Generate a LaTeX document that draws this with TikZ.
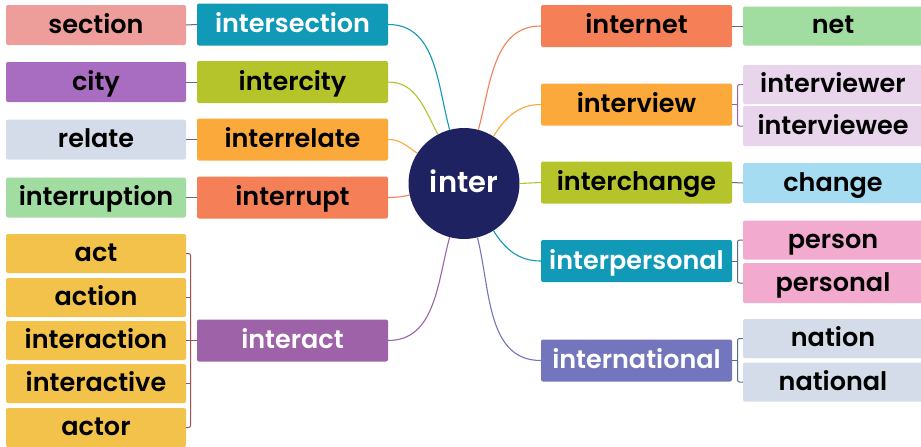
\documentclass[tikz,border=0pt]{standalone}
\usepackage{fontspec}
\setmainfont{Poppins}[BoldFont={Poppins SemiBold}]
\begin{document}
\begin{tikzpicture}[x=1pt,y=-1pt,
  box/.style={rectangle, rounded corners=2pt, inner sep=0pt, text height=18pt, text depth=2pt, font=\fontsize{25.5}{28}\selectfont\bfseries, text=black},
  wA/.style={box, minimum width=180, minimum height=40},
  wB/.style={box, minimum width=191, minimum height=42},
  wC/.style={box, minimum width=180, minimum height=39},
  link/.style={line width=1.1pt},
  tie/.style={line width=1pt, color=slate},
]
\definecolor{navy}{HTML}{1F2260}
\definecolor{cSection}{HTML}{EE9E9A}
\definecolor{cTeal}{HTML}{1199B8}
\definecolor{cCity}{HTML}{A86CC1}
\definecolor{cLime}{HTML}{B5C42A}
\definecolor{cGrey}{HTML}{D3DCE8}
\definecolor{cOrange}{HTML}{FBA93A}
\definecolor{cGreen}{HTML}{A1DCA1}
\definecolor{cRed}{HTML}{F58058}
\definecolor{cYellow}{HTML}{F3C24A}
\definecolor{cPurple}{HTML}{9D62A8}
\definecolor{cLav}{HTML}{E8D5EC}
\definecolor{cSky}{HTML}{A6DCF2}
\definecolor{cPink}{HTML}{F2AACF}
\definecolor{cIndigo}{HTML}{7476BD}
\definecolor{slate}{HTML}{5A6E8A}
\definecolor{brack}{HTML}{A0524A}
\useasboundingbox[fill=white] (0,0) rectangle (921,447);

% centre
\node[circle, fill=navy, minimum size=111, inner sep=0pt, text=white, text height=20pt, text depth=2pt, font=\fontsize{29}{30}\selectfont\bfseries] (c) at (464,183.5) {inter};

% left column 2
\node[wB, fill=cTeal, text=white] (intersection) at (292.5,24.5) {intersection};
\node[wB, fill=cLime] (intercity) at (292.5,82) {intercity};
\node[wB, fill=cOrange] (interrelate) at (292.5,139.5) {interrelate};
\node[wB, fill=cRed] (interrupt) at (292.5,197.5) {interrupt};
\node[wB, fill=cPurple, text=white] (interact) at (292.5,340.5) {interact};

% left column 1
\node[wA, fill=cSection] (section) at (96,25) {section};
\node[wA, fill=cCity] (city) at (96,82) {city};
\node[wA, fill=cGrey] (relate) at (96,139.5) {relate};
\node[wA, fill=cGreen] (interruption) at (96,197.5) {interruption};
\node[wC, fill=cYellow] (act) at (96,253.5) {act};
\node[wC, fill=cYellow] (action) at (96,297.5) {action};
\node[wC, fill=cYellow] (interaction) at (96,340.5) {interaction};
\node[wC, fill=cYellow] (interactive) at (96,383.5) {interactive};
\node[wC, fill=cYellow] (actor) at (96,427.5) {actor};

% right column 1
\node[wB, fill=cRed] (internet) at (636.5,26) {internet};
\node[wB, fill=cOrange] (interview) at (636.5,104.5) {interview};
\node[wB, fill=cLime] (interchange) at (636.5,182.5) {interchange};
\node[wB, fill=cTeal, text=white] (interpersonal) at (636.5,261) {interpersonal};
\node[wB, fill=cIndigo, text=white] (international) at (636.5,360.5) {international};

% right column 2
\node[wC, fill=cGreen] (net) at (833,26) {net};
\node[wC, fill=cLav] (interviewer) at (833,84.5) {interviewer};
\node[wC, fill=cLav, minimum height=40] (interviewee) at (833,126) {interviewee};
\node[wC, fill=cSky, minimum height=40] (change) at (833,183) {change};
\node[wC, fill=cPink] (person) at (833,240) {person};
\node[wC, fill=cPink, minimum height=40] (personal) at (833,283) {personal};
\node[wC, fill=cGrey] (nation) at (833,338.5) {nation};
\node[wC, fill=cGrey] (national) at (833,382) {national};

% centre links
\draw[link, cTeal] (c.105) to[out=105,in=0] (intersection.east);
\draw[link, cLime] (c.118) to[out=118,in=0] (intercity.east);
\draw[link, cOrange] (c.147) to[out=147,in=0] (interrelate.east);
\draw[link, cRed] (c.192) to[out=192,in=0] (interrupt.east);
\draw[link, cPurple] (c.255) to[out=255,in=0] (interact.east);
\draw[link, cRed] (c.75) to[out=75,in=180] (internet.west);
\draw[link, cOrange] (c.58) to[out=58,in=180] (interview.west);
\draw[link, cLime] (c.east) -- (interchange.west);
\draw[link, cTeal] (c.-58) to[out=-58,in=180] (interpersonal.west);
\draw[link, cIndigo] (c.-76) to[out=-76,in=180] (international.west);

% simple ties
\draw[tie] (section.east) -- (intersection.west);
\draw[tie] (city.east) -- (intercity.west);
\draw[tie] (relate.east) -- (interrelate.west);
\draw[tie] (interruption.east) -- (interrupt.west);
\draw[tie] (internet.east) -- (net.west);
\draw[tie] (interchange.east) -- (change.west);

% brackets
\coordinate (bL) at (190.5,0);
\draw[tie, brack, rounded corners=2pt] (act.east) -- (act.east -| bL) -- (actor.east -| bL) -- (actor.east);
\draw[tie, brack] (action.east) -- (action.east -| bL);
\draw[tie, brack] (interactive.east) -- (interactive.east -| bL);
\draw[tie, brack] (interaction.east) -- (interact.west);

\coordinate (bR) at (737.5,0);
\draw[tie, cPurple, rounded corners=2pt] (interviewer.west) -- (interviewer.west -| bR) -- (interviewee.west -| bR) -- (interviewee.west);
\draw[tie, cPurple] (interview.east) -- (interview.east -| bR);
\draw[tie, rounded corners=2pt] (person.west) -- (person.west -| bR) -- (personal.west -| bR) -- (personal.west);
\draw[tie] (interpersonal.east) -- (interpersonal.east -| bR);
\draw[tie, rounded corners=2pt] (nation.west) -- (nation.west -| bR) -- (national.west -| bR) -- (national.west);
\draw[tie] (international.east) -- (international.east -| bR);
\end{tikzpicture}
\end{document}
